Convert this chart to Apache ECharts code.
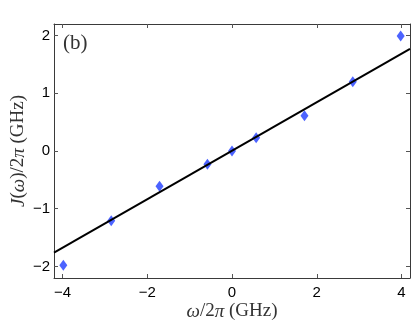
<!DOCTYPE html>
<html>
<head>
<meta charset="utf-8">
<script src="https://cdn.jsdelivr.net/npm/echarts@6/dist/echarts.min.js"></script>
<style>html,body{margin:0;padding:0;background:#fff}#c{width:415px;height:321px}</style>
</head>
<body>
<div id="c"></div>
<script>
// Data
const omegaGHz = [-3.98, -2.85, -1.71, -0.58, 0.0, 0.57, 1.71, 2.85, 3.98];
const couplingGHz = [-1.98, -1.21, -0.61, -0.23, 0.0, 0.23, 0.61, 1.20, 1.99];
const fitX = [-4.2, 4.2];
const fitY = [-1.76, 1.77];
const xTicks = [-4, -2, 0, 2, 4];
const yTicks = [-2, -1, 0, 1, 2];
const panelLabel = '(b)';

const chart = echarts.init(document.getElementById('c'), null, {renderer: 'canvas'});
const minus = v => String(v).replace('-', '\u2212');
const serif = '"Liberation Serif", "DejaVu Serif", serif';
const sans = '"Liberation Sans", Arial, sans-serif';
const axisCol = '#3a3a3a';
const tickStyle = {show: true, inside: true, length: 4, lineStyle: {color: '#555', width: 1}};

function xAx(pos, labels) {
  return {
    type: 'value', min: -4.2, max: 4.2, position: pos,
    axisLine: {show: true, onZero: false, lineStyle: {color: axisCol, width: 1}},
    axisTick: Object.assign({customValues: xTicks}, tickStyle),
    axisLabel: {show: labels, customValues: xTicks, formatter: minus, color: '#000',
      fontFamily: sans, fontSize: 15, margin: 7},
    splitLine: {show: false},
    name: labels ? '{i|ω}/2{i|π} (GHz)' : '',
    nameLocation: 'middle', nameGap: 24, nameMoveOverlap: false,
    nameTextStyle: {fontFamily: serif, fontSize: 19, color: '#333',
      rich: {i: {fontFamily: serif, fontStyle: 'italic', fontSize: 19, color: '#333'}}}
  };
}
function yAx(pos, labels) {
  return {
    type: 'value', min: -2.2, max: 2.2, position: pos,
    axisLine: {show: true, onZero: false, lineStyle: {color: axisCol, width: 1}},
    axisTick: Object.assign({customValues: yTicks}, tickStyle),
    axisLabel: {show: labels, customValues: yTicks, formatter: minus, color: '#000',
      fontFamily: sans, fontSize: 15, margin: 4},
    splitLine: {show: false},
    name: labels ? '{i|J}({i|ω})/2{i|π} (GHz)' : '',
    nameLocation: 'middle', nameGap: 26, nameRotate: 90, nameMoveOverlap: false,
    nameTextStyle: {fontFamily: serif, fontSize: 19, color: '#333',
      rich: {i: {fontFamily: serif, fontStyle: 'italic', fontSize: 19, color: '#333'}}}
  };
}

chart.setOption({
  animation: false,
  backgroundColor: '#fff',
  grid: {left: 54, right: 5, top: 24, bottom: 43, containLabel: false, outerBoundsMode: 'none'},
  xAxis: [xAx('bottom', true), xAx('top', false)],
  yAxis: [yAx('left', true), yAx('right', false)],
  graphic: [{
    type: 'text', left: 63, top: 33, z: 10,
    style: {text: panelLabel, font: '21px ' + serif, fill: '#333'}
  }],
  series: [
    {
      type: 'scatter', xAxisIndex: 0, yAxisIndex: 0, z: 2,
      symbol: 'diamond', symbolSize: [8, 11],
      itemStyle: {color: '#1f3cff'},
      data: omegaGHz.map((x, i) => [x, couplingGHz[i]])
    },
    {
      type: 'line', xAxisIndex: 0, yAxisIndex: 0, z: 3,
      showSymbol: false, symbol: 'none',
      lineStyle: {color: '#000', width: 2},
      data: fitX.map((x, i) => [x, fitY[i]])
    }
  ]
});
</script>
</body>
</html>
